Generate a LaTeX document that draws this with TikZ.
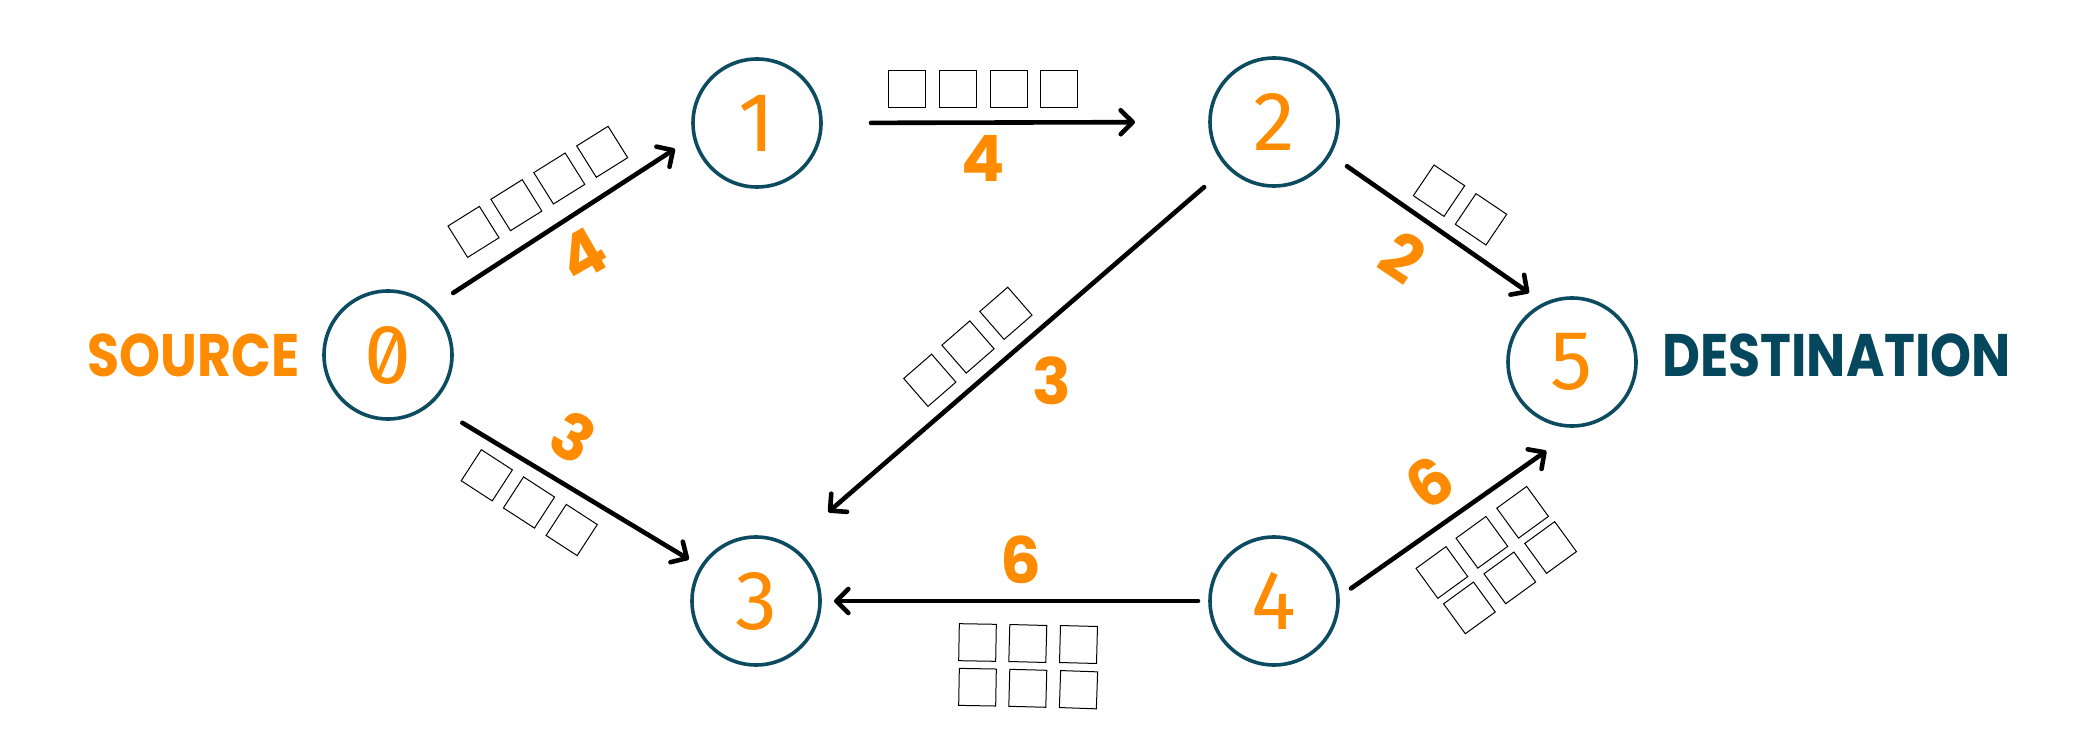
\documentclass[tikz,border=0pt]{standalone}
\usepackage{graphicx}
\usepackage{fontspec}
\usetikzlibrary{arrows.meta}
\newfontfamily\labelfont{Poppins}
\newfontfamily\digitfont{Fira Sans}[RawFeature=+zero]
\definecolor{orng}{HTML}{FF8C00}
\definecolor{deepteal}{HTML}{0C4B60}
\definecolor{desttxt}{HTML}{05475D}
\begin{document}
\begin{tikzpicture}[x=0.5pt,y=-0.5pt,
  vertex/.style={circle, draw=deepteal, line width=1.8pt, minimum size=64pt,
    inner sep=0pt, outer sep=0pt, text=orng,
    font=\digitfont\fontsize{42}{42}\selectfont},
  edge/.style={line width=2.3pt, line cap=round,
    -{Straight Barb[length=6pt,width=12pt,round]}},
  weight/.style={text=orng, inner sep=0pt,
    font=\labelfont\bfseries\fontsize{32}{32}\selectfont},
  sq/.style={draw=black, line width=0.5pt, minimum size=18.5pt, inner sep=0pt},
  side/.style={inner sep=0pt, font=\labelfont\bfseries\fontsize{30}{30}\selectfont}]
\path[use as bounding box, fill=white] (0,0) rectangle (2078,743);

% vertices
\node[vertex] (n0) at (388,355) {0};
\node[vertex] (n1) at (757,123) {1};
\node[vertex] (n2) at (1274,122) {2};
\node[vertex] (n3) at (756,601) {3};
\node[vertex] (n4) at (1274,601) {4};
\node[vertex] (n5) at (1572,362) {5};

% side labels
\node[side, text=orng, anchor=base east] (src) at (300,377) {\scalebox{0.87}[1]{SOURCE}};
\node[side, text=desttxt, anchor=base west] (dst) at (1662,377) {\scalebox{0.87}[1]{DESTINATION}};

% edges
\draw[edge, shorten <=13.3pt, shorten >=11.6pt] (n0.48) -- (n1.192);
\draw[edge, shorten <=25pt, shorten >=37.5pt] (n1.east) -- (n2.west);
\draw[edge, shorten <=10.7pt, shorten >=9.7pt] (n2.330) -- (n5.115);
\draw[edge, shorten <=15.8pt, shorten >=26pt] (n2.224) -- (n3.59);
\draw[edge, shorten <=18.9pt, shorten >=7.5pt] (n0.311) -- (n3.148);
\draw[edge, shorten <=6pt, shorten >=7pt] (n4.west) -- (n3.east);
\draw[edge, shorten <=8pt, shorten >=22.5pt] (n4.3) -- (n5.280);

% weights
\node[weight, rotate=30] (w01) at (583,255) {4};
\node[weight] (w12) at (983,158) {4};
\node[weight, rotate=-34] (w25) at (1403,257) {2};
\node[weight] (w23) at (1052,381) {3};
\node[weight, rotate=-31] (w03) at (573,437) {3};
\node[weight] (w43) at (1021,560) {6};
\node[weight, rotate=35] (w45) at (1430,482) {6};

% packets on 0 -> 1
\node[sq, rotate=32] (a1) at (473.5,231.9) {};
\node[sq, rotate=32] (a2) at (516.4,205.2) {};
\node[sq, rotate=32] (a3) at (559.3,178.5) {};
\node[sq, rotate=32] (a4) at (602.2,151.8) {};
% packets on 1 -> 2
\node[sq] (b1) at (907,89) {};
\node[sq] (b2) at (958,89) {};
\node[sq] (b3) at (1009,89) {};
\node[sq] (b4) at (1059,89) {};
% packets on 2 -> 5
\node[sq, rotate=-34] (c1) at (1439,190.7) {};
\node[sq, rotate=-34] (c2) at (1481,219.3) {};
% packets on 2 -> 3
\node[sq, rotate=41] (d1) at (929.8,380.3) {};
\node[sq, rotate=41] (d2) at (968,347) {};
\node[sq, rotate=41] (d3) at (1005.9,313.3) {};
% packets on 0 -> 3
\node[sq, rotate=-33] (e1) at (486.8,475.3) {};
\node[sq, rotate=-33] (e2) at (529,502.5) {};
\node[sq, rotate=-33] (e3) at (571.7,530) {};
% packets on 4 -> 3
\node[sq, rotate=-1] (f1) at (977.5,642.5) {};
\node[sq, rotate=-1.5] (f2) at (1027.8,643.5) {};
\node[sq, rotate=-1.5] (f3) at (1078.5,644.5) {};
\node[sq, rotate=-1] (f4) at (977.5,687.2) {};
\node[sq, rotate=-1.5] (f5) at (1027.8,688.3) {};
\node[sq, rotate=-2] (f6) at (1078.5,689.7) {};
% packets on 4 -> 5
\node[sq, rotate=36] (g1) at (1441.9,572.5) {};
\node[sq, rotate=36] (g2) at (1481.9,542.3) {};
\node[sq, rotate=36] (g3) at (1522.6,512.3) {};
\node[sq, rotate=36] (g4) at (1469.4,607.9) {};
\node[sq, rotate=36] (g5) at (1509.8,577.9) {};
\node[sq, rotate=36] (g6) at (1550.6,547.5) {};
\end{tikzpicture}
\end{document}
